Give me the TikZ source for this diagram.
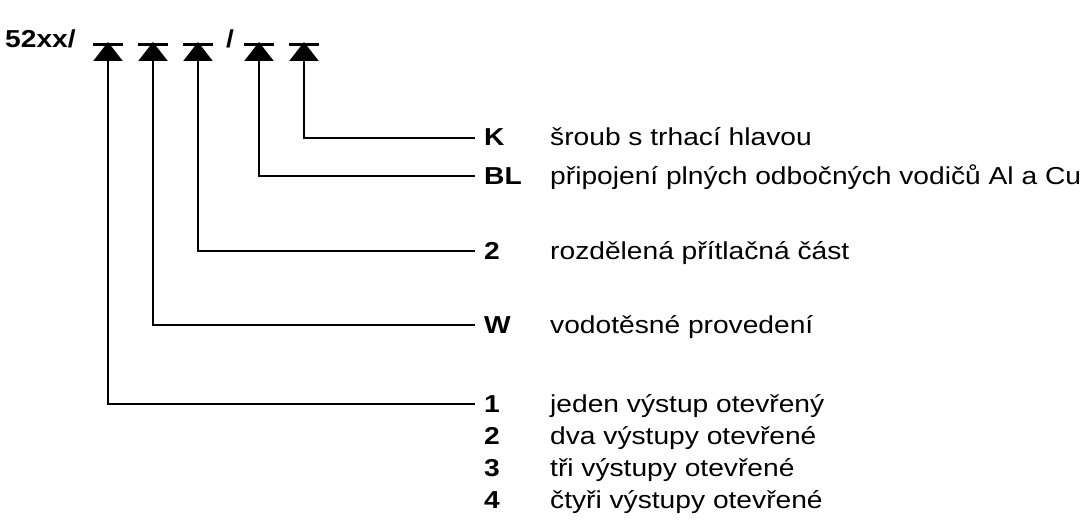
\documentclass[tikz,border=0pt]{standalone}
\usepackage{fontspec}
\setmainfont{Liberation Sans}[FakeStretch=1.15]
\usetikzlibrary{arrows.meta}
\begin{document}
\begin{tikzpicture}[x=1pt,y=-1pt,
  txt/.style={inner sep=0pt,anchor=base west,font=\fontsize{24.5}{28}\selectfont},
  lbl/.style={txt,font=\fontsize{24.5}{28}\selectfont\bfseries},
  conn/.style={line width=2.2pt,-{Triangle[width=29pt,length=19pt]}},
  bar/.style={line width=2.2pt}]
\useasboundingbox (0,0) rectangle (1090,524);
% title
\node[lbl] (title) at (5,48) {52xx/};
\node[lbl] (slash) at (226,48) {/};
% slot tips
\foreach \n/\x in {1/108,2/153,3/198,4/259,5/304}{
  \coordinate (t\n) at (\x,42);
  \draw[bar] ([xshift=-15pt,yshift=-2.5pt]t\n) -- ([xshift=15pt,yshift=-2.5pt]t\n);
}
% line ends
\coordinate (e5) at (475,138);
\coordinate (e4) at (475,176);
\coordinate (e3) at (475,251);
\coordinate (e2) at (475,325);
\coordinate (e1) at (475,404);
% labels
\node[lbl] (lK) at (484,146) {K};
\node[txt] (dK) at (550,146) {šroub s trhací hlavou};
\node[lbl] (lBL) at (484,184) {BL};
\node[txt] (dBL) at (550,184) {připojení plných odbočných vodičů Al a Cu};
\node[lbl] (l2a) at (484,259) {2};
\node[txt] (d2a) at (550,259) {rozdělená přítlačná část};
\node[lbl] (lW) at (484,333) {W};
\node[txt] (dW) at (550,333) {vodotěsné provedení};
\node[lbl] (l1) at (484,412) {1};
\node[txt] (d1) at (550,412) {jeden výstup otevřený};
\node[lbl] (l2) at (484,444) {2};
\node[txt] (d2) at (550,444) {dva výstupy otevřené};
\node[lbl] (l3) at (484,476) {3};
\node[txt] (d3) at (550,476) {tři výstupy otevřené};
\node[lbl] (l4) at (484,508) {4};
\node[txt] (d4) at (550,508) {čtyři výstupy otevřené};
% connectors
\draw[conn] (e1) -| (t1);
\draw[conn] (e2) -| (t2);
\draw[conn] (e3) -| (t3);
\draw[conn] (e4) -| (t4);
\draw[conn] (e5) -| (t5);
\end{tikzpicture}
\end{document}
